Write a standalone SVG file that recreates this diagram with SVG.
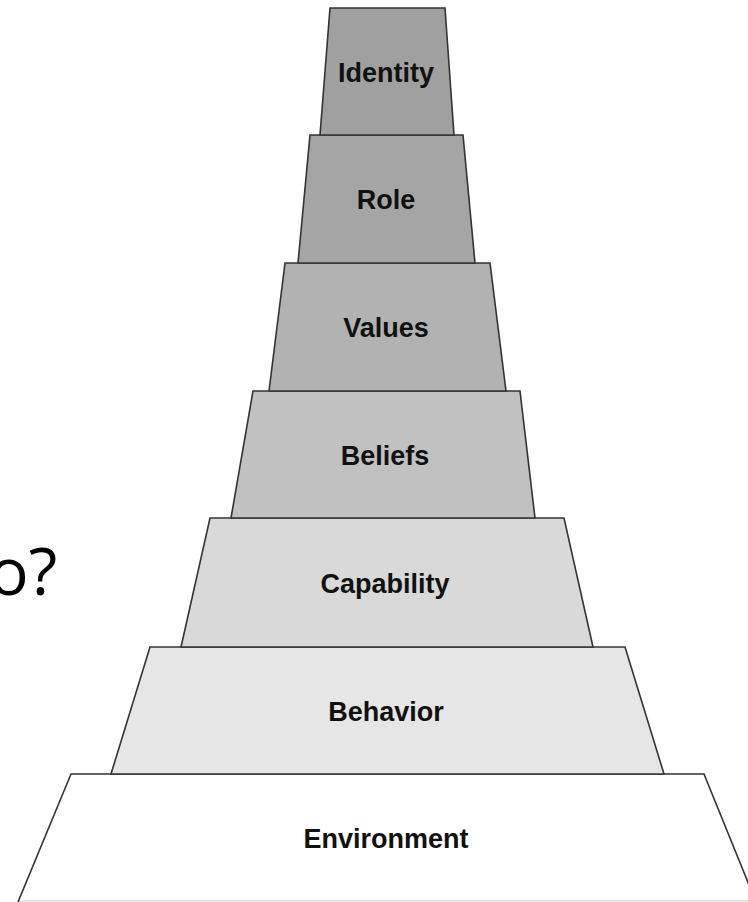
<svg xmlns="http://www.w3.org/2000/svg" width="748" height="902" viewBox="0 0 748 902">
  <style>
    .tier { stroke: #333333; stroke-width: 1.6; stroke-linejoin: miter; }
    .label { font-family: "Liberation Sans", Arial, sans-serif; font-weight: bold; font-size: 27px; fill: #111111; text-anchor: middle; }
    .side { font-family: "Open Sans", "Noto Sans", sans-serif; font-size: 66px; fill: #000000; }
  </style>
  <rect width="748" height="902" fill="#ffffff"/>

  <text class="side" x="-11" y="595">o?</text>

  <!-- Tiers drawn from the base upward -->
  <g id="environment">
    <polygon points="71,774 704,774 756,902 18,902" fill="#ffffff" stroke="none"/>
    <line x1="18" y1="901" x2="748" y2="901" stroke="#cccccc" stroke-width="1.2"/>
    <polyline class="tier" fill="none" points="18,902 71,774 704,774 756,902"/>
    <text class="label" x="386" y="848">Environment</text>
  </g>
  <g id="behavior">
    <polygon class="tier" points="150,647 625,647 664,774 111,774" fill="#e6e6e6"/>
    <text class="label" x="386" y="721">Behavior</text>
  </g>
  <g id="capability">
    <polygon class="tier" points="210,518 564,518 593,647 181,647" fill="#d9d9d9"/>
    <text class="label" x="385" y="593">Capability</text>
  </g>
  <g id="beliefs">
    <polygon class="tier" points="253,391 520,391 535,518 231,518" fill="#c1c1c1"/>
    <text class="label" x="385" y="465">Beliefs</text>
  </g>
  <g id="values">
    <polygon class="tier" points="285,263 490,263 506,391 269,391" fill="#b2b2b2"/>
    <text class="label" x="386" y="337">Values</text>
  </g>
  <g id="role">
    <polygon class="tier" points="310,135 463,135 475,263 298,263" fill="#a5a5a5"/>
    <text class="label" x="386" y="209">Role</text>
  </g>
  <g id="identity">
    <polygon class="tier" points="330,8 445,8 454,135 320,135" fill="#a0a0a0"/>
    <text class="label" x="386" y="82">Identity</text>
  </g>
</svg>
